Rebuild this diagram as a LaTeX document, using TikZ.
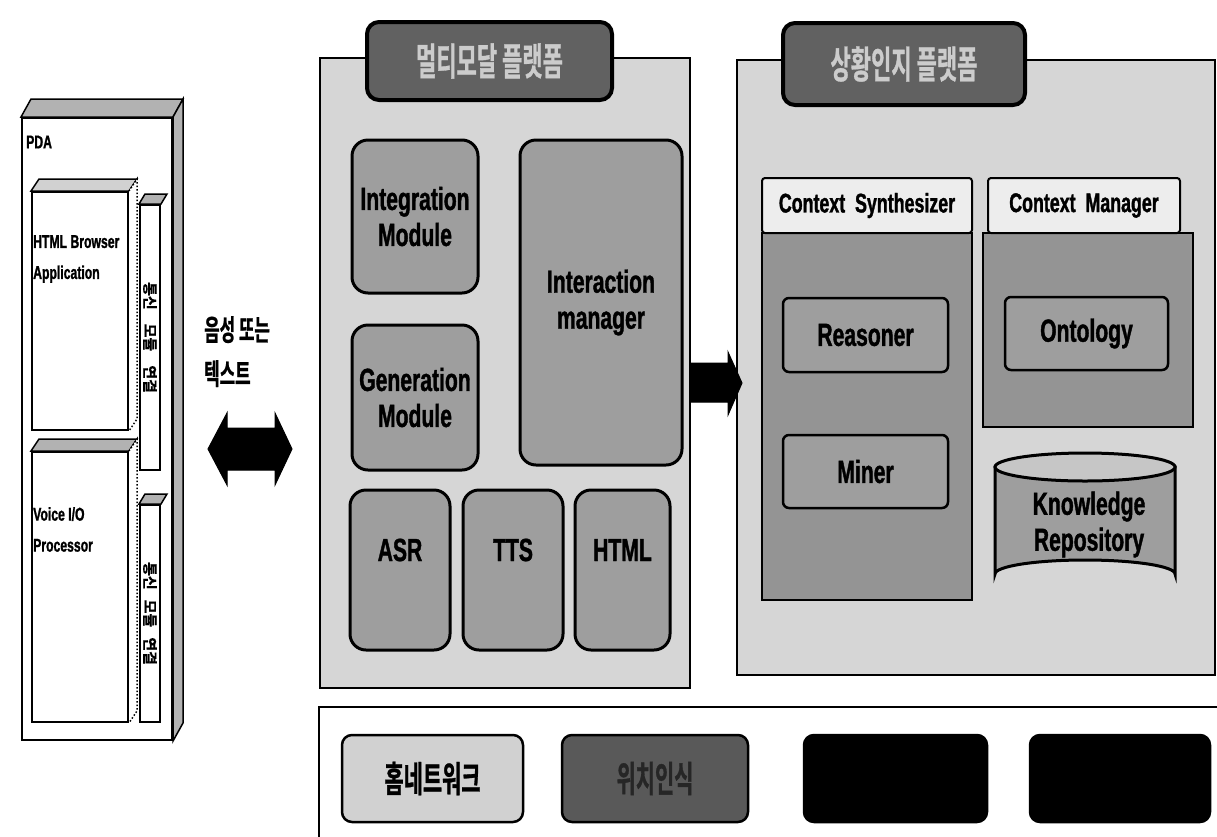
\documentclass[tikz,border=0pt]{standalone}
\usepackage{fontspec}
\setmainfont{Liberation Sans}
\newfontfamily\cond[FakeStretch=0.66,FakeBold=1.2]{Liberation Sans Bold}
\newfontfamily\kr[FakeStretch=0.58,FakeBold=0.8]{Noto Sans CJK KR Bold}
\newfontfamily\krn[FakeBold=0.6]{Noto Sans CJK KR Bold}
\usetikzlibrary{calc}
\definecolor{panelg}{gray}{0.84}
\definecolor{modg}{gray}{0.62}
\definecolor{bodyg}{gray}{0.58}
\definecolor{tabg}{gray}{0.38}
\definecolor{headg}{gray}{0.93}
\definecolor{faceg}{gray}{0.7}
\definecolor{titleg}{gray}{0.8}
\tikzset{
  panel/.style={draw=black,line width=2pt,fill=panelg,inner sep=0pt},
  tabbox/.style={draw=black,line width=4pt,fill=tabg,rounded corners=12pt,inner sep=0pt},
  modbox/.style={draw=black,line width=3pt,fill=modg,rounded corners=16pt,inner sep=0pt},
  sqbox/.style={draw=black,line width=2.5pt,fill=modg,rounded corners=6pt,inner sep=0pt},
  plain/.style={draw=black,line width=2pt,inner sep=0pt},
  face/.style={draw=black,line width=1.5pt,fill=faceg},
  lbl/.style={font=\cond\fontsize{32}{36}\selectfont,align=center,inner sep=0pt},
  hdr/.style={font=\cond\fontsize{27}{30}\selectfont,inner sep=0pt},
  smalllbl/.style={font=\cond\fontsize{18.5}{35}\selectfont,align=left,inner sep=0pt},
  krtitle/.style={font=\kr\fontsize{38}{40}\selectfont,text=titleg,inner sep=0pt},
  krside/.style={font=\kr\fontsize{29}{44}\selectfont,inner sep=0pt,align=left},
  coltext/.style={font=\krn\fontsize{15}{16}\selectfont,rotate=-90,inner sep=0pt},
  blockarrow/.style={fill=black,draw=black,line width=1pt},
}
\begin{document}
\begin{tikzpicture}[x=1pt,y=-1pt]
\useasboundingbox (0,0) rectangle (1217,836);
\fill[white] (0,0) rectangle (1217,836);

% ---------------- PDA ----------------
\node[plain,fill=white,minimum width=150pt,minimum height=622pt] (pda) at (97,429) {};
\draw[face] (pda.north west) -- ++(10,-18) -- ($(pda.north east)+(10,-18)$) -- (pda.north east) -- cycle;
\draw[face] (pda.north east) -- ++(10,-18) -- ($(pda.south east)+(10,-18)$) -- (pda.south east) -- cycle;
\node[smalllbl,anchor=west] (pdat) at (26,142) {PDA};

\node[plain,fill=white,minimum width=96pt,minimum height=238pt] (html) at (80,311) {};
\draw[face,fill=faceg!60] (html.north west) -- ++(8,-12) -- ($(html.north east)+(8,-12)$) -- (html.north east) -- cycle;
\draw[face,fill=white,dotted] (html.north east) -- ++(8,-12) -- ($(html.south east)+(8,-12)$) -- (html.south east);
\node[smalllbl,anchor=north west] (htmlt) at ($(html.north west)+(2,44)$) {HTML Browser\\[-4pt]Application};

\node[plain,fill=white,minimum width=20pt,minimum height=265pt] (col1) at (150,337.5) {};
\draw[face] (col1.north west) -- ++(6,-10) -- ($(col1.north east)+(6,-10)$) -- (col1.north east) -- cycle;
\node[coltext] (col1t) at (col1.center) {통신\hspace{14pt}모듈\hspace{14pt}연결};

\node[plain,fill=white,minimum width=96pt,minimum height=270pt] (voice) at (80,587) {};
\draw[face] (voice.north west) -- ++(8,-12) -- ($(voice.north east)+(8,-12)$) -- (voice.north east) -- cycle;
\draw[face,fill=white,dotted] (voice.north east) -- ++(8,-12) -- ($(voice.south east)+(8,-12)$) -- (voice.south east);
\node[smalllbl,anchor=north west] (voicet) at ($(voice.north west)+(2,56)$) {Voice I/O\\[-4pt]Processor};

\node[plain,fill=white,minimum width=20pt,minimum height=217pt] (col2) at (150,613.5) {};
\draw[face] (col2.north west) -- ++(6,-10) -- ($(col2.north east)+(6,-10)$) -- (col2.north east) -- cycle;
\node[coltext] (col2t) at (col2.center) {통신\hspace{10pt}모듈\hspace{10pt}연결};

% ---------------- voice/text arrow ----------------
\node[krside,anchor=north west] (vt) at (204,316) {음성 또는\\텍스트};
\fill[blockarrow] (208,449) -- (227,413) -- (227,428) -- (275,428) -- (275,413) -- (292,449)
   -- (275,485) -- (275,470) -- (227,470) -- (227,485) -- cycle;

% ---------------- Multimodal platform ----------------
\node[panel,minimum width=370pt,minimum height=630pt] (mm) at (505,373) {};
\node[tabbox,minimum width=245pt,minimum height=78pt] (mmtab) at (489.5,61) {};
\node[krtitle] (mmtabt) at (mmtab.center) {멀티모달 플랫폼};

\node[modbox,minimum width=126pt,minimum height=153pt] (integ) at (415,216.5) {};
\node[lbl] (integt) at (integ.center) {Integration\\Module};
\node[modbox,minimum width=162pt,minimum height=325pt] (inter) at (601,302.5) {};
\node[lbl] (intert) at (inter.center) {Interaction\\manager};
\node[modbox,minimum width=126pt,minimum height=145pt] (gen) at (415,397.5) {};
\node[lbl] (gent) at (gen.center) {Generation\\Module};
\node[modbox,minimum width=100pt,minimum height=160pt] (asr) at (400,570) {};
\node[lbl] (asrt) at ($(asr.center)+(0,-20)$) {ASR};
\node[modbox,minimum width=100pt,minimum height=160pt] (tts) at (513,570) {};
\node[lbl] (ttst) at ($(tts.center)+(0,-20)$) {TTS};
\node[modbox,minimum width=95pt,minimum height=160pt] (htmlm) at (622.5,570) {};
\node[lbl] (htmlmt) at ($(htmlm.center)+(0,-20)$) {HTML};

% ---------------- Context platform ----------------
\node[panel,minimum width=478pt,minimum height=615pt] (cx) at (976,367.5) {};
\node[tabbox,minimum width=242pt,minimum height=82pt] (cxtab) at (904,64) {};
\node[krtitle] (cxtabt) at (cxtab.center) {상황인지 플랫폼};

\fill[blockarrow] (690,363) -- (728,363) -- (728,352) -- (742,383) -- (728,415) -- (728,402) -- (690,402) -- cycle;

\node[plain,fill=bodyg,minimum width=210pt,minimum height=367pt] (csb) at (867,416.5) {};
\node[plain,fill=headg,minimum width=210pt,minimum height=55pt,rounded corners=3pt] (csh) at (867,205.5) {};
\node[hdr] (csht) at (csh.center) {Context\ \ Synthesizer};
\node[plain,fill=bodyg,minimum width=210pt,minimum height=194pt] (cmb) at (1088,330) {};
\node[plain,fill=headg,minimum width=192pt,minimum height=55pt,rounded corners=3pt] (cmh) at (1084,205.5) {};
\node[hdr] (cmht) at (cmh.center) {Context\ \ Manager};

\node[sqbox,minimum width=165pt,minimum height=74pt] (reas) at (865.5,335) {};
\node[lbl] (reast) at (reas.center) {Reasoner};
\node[sqbox,minimum width=165pt,minimum height=73pt] (miner) at (865.5,471.5) {};
\node[lbl] (minert) at (miner.center) {Miner};
\node[sqbox,minimum width=163pt,minimum height=73pt] (onto) at (1086.5,333.5) {};
\node[lbl] (ontot) at (onto.center) {Ontology};

% knowledge repository cylinder
\coordinate (kr) at (1085,520.5);
\draw[line width=3pt,fill=modg] (995,467) -- (995,574) arc[start angle=180,end angle=0,x radius=90pt,y radius=14pt] -- (1175,467) -- cycle;
\draw[line width=3pt,fill=headg!50!modg] (1085,467) ellipse [x radius=90pt,y radius=14pt];
\node[lbl] (krt) at ($(kr)+(4,4)$) {Knowledge\\Repository};

% ---------------- bottom strip ----------------
\node[panel,fill=white,minimum width=912pt,minimum height=147pt] (bot) at (775,780.5) {};
\node[sqbox,rounded corners=10pt,fill=black!18,minimum width=181pt,minimum height=87pt] (b1) at (432.5,778.5) {};
\node[font=\kr\fontsize{36}{38}\selectfont,inner sep=0pt] (b1t) at (b1.center) {홈네트워크};
\node[sqbox,rounded corners=10pt,fill=black!65,minimum width=186pt,minimum height=87pt] (b2) at (655,778.5) {};
\node[font=\kr\fontsize{36}{38}\selectfont,text=black!85,inner sep=0pt] (b2t) at (b2.center) {위치인식};
\node[sqbox,rounded corners=10pt,fill=black,minimum width=183pt,minimum height=87pt] (b3) at (895.5,778.5) {};
\node[sqbox,rounded corners=10pt,fill=black,minimum width=180pt,minimum height=87pt] (b4) at (1120,778.5) {};
\end{tikzpicture}
\end{document}
